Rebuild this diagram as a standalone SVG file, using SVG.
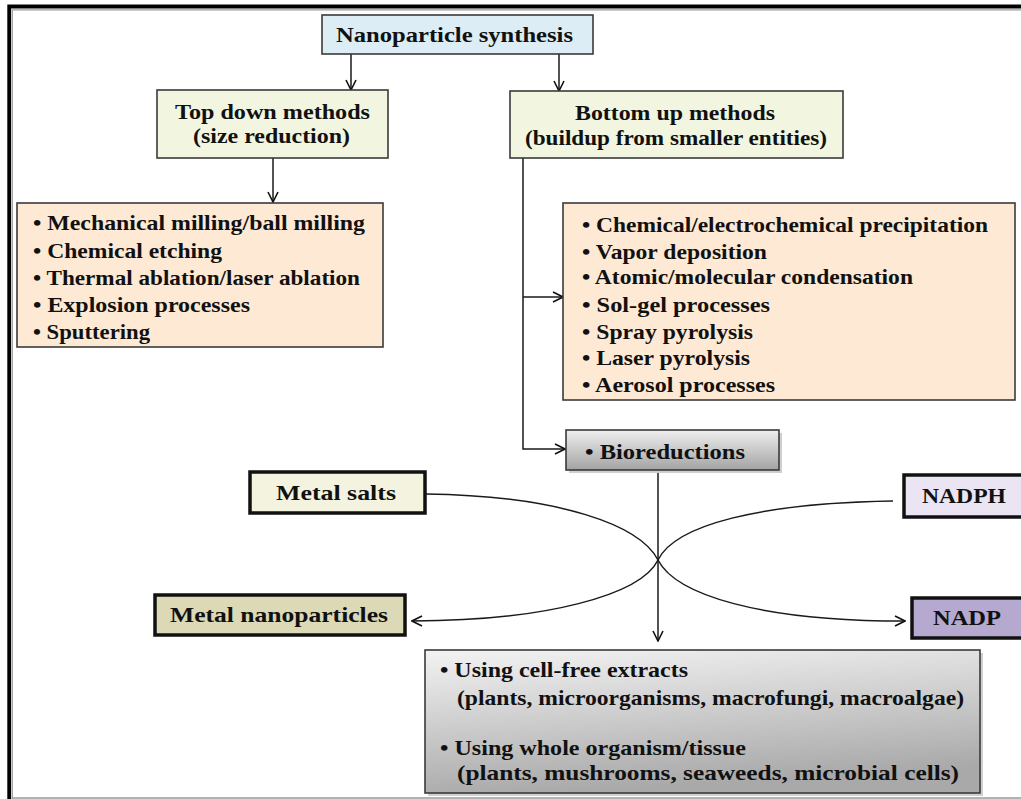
<svg xmlns="http://www.w3.org/2000/svg" width="1021" height="799" viewBox="0 0 1021 799">
<style>
.t{font-family:"Liberation Serif","Times New Roman",serif;font-weight:bold;fill:#111;font-size:21px;}
.box{stroke:#3a3a3a;stroke-width:1.6;}
.thick{stroke:#111;stroke-width:3.5;}
.ln{fill:none;stroke:#1a1a1a;stroke-width:1.5;}
.sh{fill:#cfcfcf;}
</style>
<defs>
<marker id="ah" viewBox="0 0 12 12" refX="11" refY="6" markerWidth="12" markerHeight="12" markerUnits="userSpaceOnUse" orient="auto">
<path d="M1,1 L11,6 L1,11" fill="none" stroke="#111" stroke-width="1.6"/>
</marker>
<linearGradient id="g1" x1="0" y1="0" x2="0" y2="1">
<stop offset="0" stop-color="#efefef"/><stop offset="1" stop-color="#a3a3a3"/>
</linearGradient>
<linearGradient id="g2" x1="0" y1="0" x2="0.25" y2="1">
<stop offset="0" stop-color="#f3f3f3"/><stop offset="1" stop-color="#a9a9a9"/>
</linearGradient>
</defs>
<rect x="0" y="0" width="1021" height="799" fill="#fff"/>
<g id="frame">
<path d="M9.2,799 V6.5 H1021" fill="none" stroke="#000" stroke-width="3.8"/>
<path d="M12.3,799 V9.8 H1021" fill="none" stroke="#9a9a9a" stroke-width="1.2"/>
<line x1="12" y1="798" x2="1021" y2="798" stroke="#9a9a9a" stroke-width="1.4"/>
</g>
<g id="connectors">
<line class="ln" x1="351" y1="54" x2="351" y2="90" marker-end="url(#ah)"/>
<line class="ln" x1="559" y1="54" x2="559" y2="91" marker-end="url(#ah)"/>
<line class="ln" x1="273" y1="158" x2="273" y2="202" marker-end="url(#ah)"/>
<polyline class="ln" points="523,158 523,449 565,449" marker-end="url(#ah)"/>
<line class="ln" x1="523" y1="297" x2="563" y2="297" marker-end="url(#ah)"/>
<line class="ln" x1="658" y1="470" x2="658" y2="641" marker-end="url(#ah)"/>
<path class="ln" d="M426,494 C560,496 640,525 658,560 C676,595 760,621 905,621" marker-end="url(#ah)"/>
<path class="ln" d="M893,501 C760,503 675,525 658,560 C641,595 545,621 412,621" marker-end="url(#ah)"/>
</g>
<g id="n-synthesis">
<rect class="box" x="322" y="15" width="271" height="39" fill="#dcedf5"/>
<text class="t" x="336" y="42" textLength="237" lengthAdjust="spacingAndGlyphs">Nanoparticle synthesis</text>
</g>
<g id="n-topdown">
<rect class="box" x="157" y="90" width="231" height="68" fill="#f2f5df"/>
<text class="t" x="175" y="119" textLength="195" lengthAdjust="spacingAndGlyphs">Top down methods</text>
<text class="t" x="193" y="143" textLength="157" lengthAdjust="spacingAndGlyphs">(size reduction)</text>
</g>
<g id="n-bottomup">
<rect class="box" x="510" y="91" width="333" height="67" fill="#f2f5df"/>
<text class="t" x="575" y="120" textLength="200" lengthAdjust="spacingAndGlyphs">Bottom up methods</text>
<text class="t" x="525" y="145" textLength="302" lengthAdjust="spacingAndGlyphs">(buildup from smaller entities)</text>
</g>
<g id="n-toplist">
<rect class="box" x="17" y="203" width="366" height="144" fill="#fde9d4"/>
<text class="t" x="33" y="230" textLength="332" lengthAdjust="spacingAndGlyphs">• Mechanical milling/ball milling</text>
<text class="t" x="33" y="258" textLength="189" lengthAdjust="spacingAndGlyphs">• Chemical etching</text>
<text class="t" x="33" y="285" textLength="327" lengthAdjust="spacingAndGlyphs">• Thermal ablation/laser ablation</text>
<text class="t" x="33" y="312" textLength="217" lengthAdjust="spacingAndGlyphs">• Explosion processes</text>
<text class="t" x="33" y="339" textLength="117" lengthAdjust="spacingAndGlyphs">• Sputtering</text>
</g>
<g id="n-bottomlist">
<rect class="box" x="563" y="203" width="452" height="197" fill="#fde9d4"/>
<text class="t" x="582" y="232" textLength="406" lengthAdjust="spacingAndGlyphs">• Chemical/electrochemical precipitation</text>
<text class="t" x="582" y="259" textLength="185" lengthAdjust="spacingAndGlyphs">• Vapor deposition</text>
<text class="t" x="582" y="284" textLength="331" lengthAdjust="spacingAndGlyphs">• Atomic/molecular condensation</text>
<text class="t" x="582" y="312" textLength="188" lengthAdjust="spacingAndGlyphs">• Sol-gel processes</text>
<text class="t" x="582" y="339" textLength="171" lengthAdjust="spacingAndGlyphs">• Spray pyrolysis</text>
<text class="t" x="582" y="365" textLength="168" lengthAdjust="spacingAndGlyphs">• Laser pyrolysis</text>
<text class="t" x="582" y="392" textLength="193" lengthAdjust="spacingAndGlyphs">• Aerosol processes</text>
</g>
<g id="n-bioreductions">
<rect class="sh" x="569" y="433" width="213" height="40"/>
<rect class="box" x="566" y="430" width="213" height="40" fill="url(#g1)" stroke-width="2"/>
<text class="t" x="585" y="459" textLength="160" lengthAdjust="spacingAndGlyphs">• Bioreductions</text>
</g>
<g id="n-metalsalts">
<rect class="thick" x="250" y="472" width="175" height="41" fill="#f4f3df"/>
<text class="t" x="276" y="500" textLength="120" lengthAdjust="spacingAndGlyphs">Metal salts</text>
</g>
<g id="n-nadph">
<rect class="thick" x="904" y="475" width="130" height="42" fill="#ebe5f3"/>
<text class="t" x="922" y="503" textLength="84" lengthAdjust="spacingAndGlyphs">NADPH</text>
</g>
<g id="n-metalnano">
<rect class="thick" x="155" y="595" width="250" height="40" fill="#dcd9b6"/>
<text class="t" x="170" y="622" textLength="218" lengthAdjust="spacingAndGlyphs">Metal nanoparticles</text>
</g>
<g id="n-nadp">
<rect class="thick" x="912" y="598" width="125" height="40" fill="#b6a9cf"/>
<text class="t" x="933" y="625" textLength="68" lengthAdjust="spacingAndGlyphs">NADP</text>
</g>
<g id="n-biolist">
<rect class="sh" x="428" y="653" width="555" height="143"/>
<rect class="box" x="425" y="650" width="555" height="143" fill="url(#g2)" stroke-width="2"/>
<text class="t" x="440" y="677" textLength="248" lengthAdjust="spacingAndGlyphs">• Using cell-free extracts</text>
<text class="t" x="457" y="705" textLength="507" lengthAdjust="spacingAndGlyphs">(plants, microorganisms, macrofungi, macroalgae)</text>
<text class="t" x="440" y="755" textLength="306" lengthAdjust="spacingAndGlyphs">• Using whole organism/tissue</text>
<text class="t" x="457" y="780" textLength="502" lengthAdjust="spacingAndGlyphs">(plants, mushrooms, seaweeds, microbial cells)</text>
</g>
</svg>
